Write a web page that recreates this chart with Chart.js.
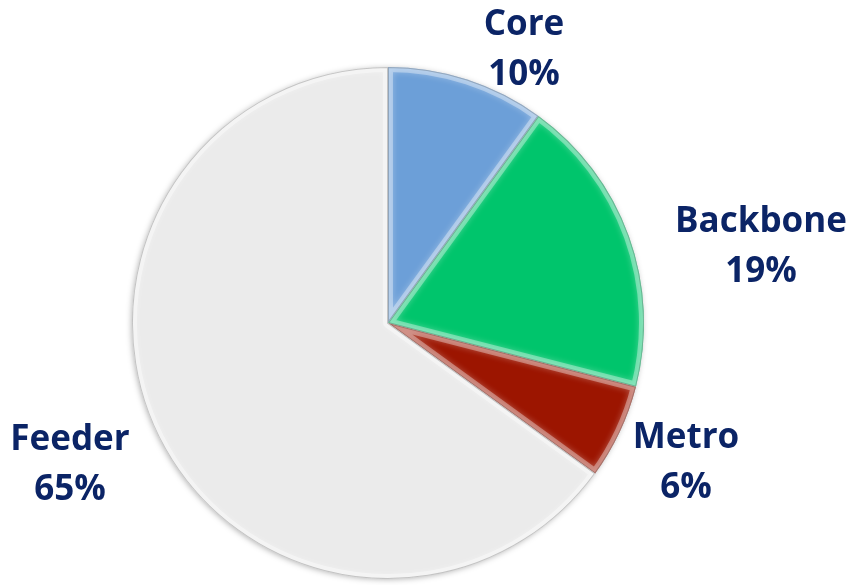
<!DOCTYPE html>
<html>
<head>
<meta charset="utf-8">
<script src="https://cdn.jsdelivr.net/npm/chart.js@4"></script>
<style>
  html, body { margin: 0; padding: 0; background: #fff; }
  #wrap { width: 852px; height: 585px; }
</style>
</head>
<body>
<div id="wrap"><canvas id="myChart"></canvas></div>
<script>
const labels = ['Core', 'Backbone', 'Metro', 'Feeder'];
const shares = [10, 19, 6, 65];
const colors = ['#6c9fd8', '#00c56c', '#9c1500', '#ebebeb'];
// where each label block sits (centre x, first line y)
const labelPos = [[524, 25], [761, 222], [686, 438], [70, 440]];

// soft bevel on every slice: light edge inside, darker rim under it
const bevel = {
  id: 'bevel',
  beforeDatasetDraw(chart) {
    const c = chart.ctx;
    const a = chart.getDatasetMeta(0).data[0];
    c.save();
    c.shadowColor = 'rgba(0,0,0,0.35)';
    c.shadowBlur = 6;
    c.shadowOffsetX = -1;
    c.shadowOffsetY = 1;
    c.fillStyle = '#ddd';
    c.beginPath();
    c.arc(a.x, a.y, a.outerRadius - 1, 0, Math.PI * 2);
    c.fill();
    c.restore();
  },
  afterDatasetDraw(chart) {
    const c = chart.ctx;
    chart.getDatasetMeta(0).data.forEach((arc) => {
      const { x, y, startAngle, endAngle, outerRadius } = arc.getProps(['x', 'y', 'startAngle', 'endAngle', 'outerRadius']);
      c.save();
      c.beginPath();
      c.moveTo(x, y);
      c.arc(x, y, outerRadius, startAngle, endAngle);
      c.closePath();
      c.clip();
      c.lineJoin = 'round';
      c.shadowColor = 'rgba(255,255,255,0.8)';
      c.shadowBlur = 6;
      c.strokeStyle = 'rgba(255,255,255,0.35)';
      c.lineWidth = 10;
      c.stroke();
      c.shadowBlur = 0;
      c.strokeStyle = 'rgba(0,0,0,0.2)';
      c.lineWidth = 2;
      c.stroke();
      c.restore();
    });
  }
};

const sliceLabels = {
  id: 'sliceLabels',
  afterDraw(chart) {
    const c = chart.ctx;
    c.save();
    c.fillStyle = '#0b2466';
    c.font = 'bold 35px "Open Sans", sans-serif';
    c.textAlign = 'center';
    c.textBaseline = 'middle';
    labels.forEach((name, i) => {
      const [lx, ly] = labelPos[i];
      c.fillText(name, lx, ly);
      c.fillText(shares[i] + '%', lx, ly + 50);
    });
    c.restore();
  }
};

new Chart(document.getElementById('myChart'), {
  type: 'pie',
  data: {
    labels: labels,
    datasets: [{
      data: shares,
      backgroundColor: colors,
      borderWidth: 0,
    }],
  },
  options: {
    responsive: true,
    maintainAspectRatio: false,
    animation: false,
    layout: { padding: { left: 132, right: 208, top: 67, bottom: 6 } },
    plugins: {
      legend: { display: false },
      tooltip: { enabled: false },
    },
  },
  plugins: [bevel, sliceLabels],
});
</script>
</body>
</html>
